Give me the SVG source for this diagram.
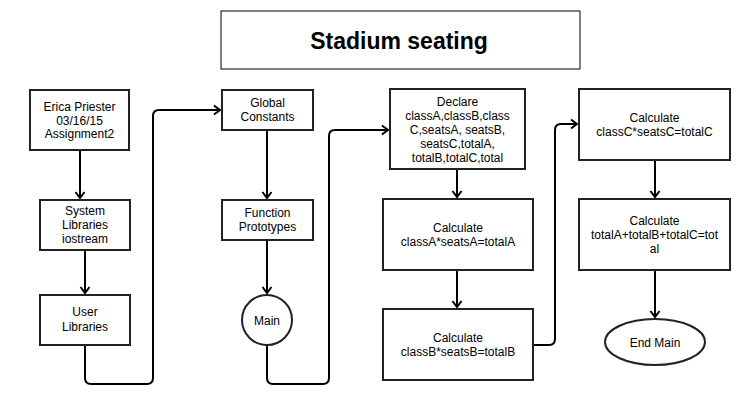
<svg xmlns="http://www.w3.org/2000/svg" width="755" height="409" viewBox="0 0 755 409">
<defs>
<marker id="arr" markerUnits="userSpaceOnUse" markerWidth="12" markerHeight="12" viewBox="-8 -6 10 12" refX="0" refY="0" orient="auto">
<path d="M-6,-4.5 L0,0 L-6,4.5" fill="none" stroke="#000" stroke-width="2"/>
</marker>
</defs>
<style>
.box{fill:#fff;stroke:#222;stroke-width:2}
.t{font-family:"Liberation Sans",Arial,sans-serif;font-size:12px;fill:#000;text-anchor:middle}
.c{fill:none;stroke:#000;stroke-width:2;marker-end:url(#arr)}
.title{font-family:"Liberation Sans",Arial,sans-serif;font-size:23px;font-weight:bold;fill:#000;text-anchor:middle}
</style>
<rect width="755" height="409" fill="#fff"/>
<g id="title">
<rect x="221" y="11" width="359" height="58" fill="#fff" stroke="#000" stroke-width="1"/>
<text class="title" x="399" y="49">Stadium seating</text>
</g>
<g id="connectors">
<path class="c" d="M80,150 V198"/>
<path class="c" d="M85,250 V293"/>
<path class="c" d="M85,345 V378 Q85,384 91,384 H147 Q153,384 153,378 V116 Q153,110 159,110 H220"/>
<path class="c" d="M267,130 V198"/>
<path class="c" d="M267,240 V293"/>
<path class="c" d="M267,345 V378 Q267,384 273,384 H323 Q329,384 329,378 V136 Q329,130 335,130 H388"/>
<path class="c" d="M457,169 V197"/>
<path class="c" d="M457,270 V307"/>
<path class="c" d="M533,345 H549 Q555,345 555,339 V130 Q555,124 561,124 H577"/>
<path class="c" d="M655,160 V197"/>
<path class="c" d="M655,270 V317"/>
</g>
<g id="erica">
<rect class="box" x="30" y="90" width="99" height="60"/>
<text class="t" x="79.5" y="111">Erica Priester</text>
<text class="t" x="79.5" y="124.5">03/16/15</text>
<text class="t" x="79.5" y="138">Assignment2</text>
</g>
<g id="syslib">
<rect class="box" x="40" y="200" width="90" height="50"/>
<text class="t" x="85" y="215">System</text>
<text class="t" x="85" y="229">Libraries</text>
<text class="t" x="85" y="242.5">iostream</text>
</g>
<g id="userlib">
<rect class="box" x="40" y="295" width="90" height="50"/>
<text class="t" x="85" y="316">User</text>
<text class="t" x="85" y="331">Libraries</text>
</g>
<g id="global">
<rect class="box" x="222" y="90" width="91" height="40"/>
<text class="t" x="267.5" y="107">Global</text>
<text class="t" x="267.5" y="120.5">Constants</text>
</g>
<g id="proto">
<rect class="box" x="222" y="200" width="91" height="40"/>
<text class="t" x="267.5" y="217">Function</text>
<text class="t" x="267.5" y="231">Prototypes</text>
</g>
<g id="main">
<circle class="box" cx="267" cy="320" r="25"/>
<text class="t" x="267" y="324.5">Main</text>
</g>
<g id="declare">
<rect class="box" x="390" y="89" width="135" height="80"/>
<text class="t" x="457.5" y="106">Declare</text>
<text class="t" x="457.5" y="120">classA,classB,class</text>
<text class="t" x="457.5" y="134">C,seatsA, seatsB,</text>
<text class="t" x="457.5" y="148">seatsC,totalA,</text>
<text class="t" x="457.5" y="162">totalB,totalC,total</text>
</g>
<g id="calcA">
<rect class="box" x="383" y="199" width="150" height="71"/>
<text class="t" x="458" y="231.5">Calculate</text>
<text class="t" x="458" y="246">classA*seatsA=totalA</text>
</g>
<g id="calcB">
<rect class="box" x="383" y="309" width="150" height="71"/>
<text class="t" x="458" y="342">Calculate</text>
<text class="t" x="458" y="356">classB*seatsB=totalB</text>
</g>
<g id="calcC">
<rect class="box" x="579" y="89" width="151" height="71"/>
<text class="t" x="654.5" y="122">Calculate</text>
<text class="t" x="654.5" y="136">classC*seatsC=totalC</text>
</g>
<g id="calcTotal">
<rect class="box" x="579" y="199" width="151" height="71"/>
<text class="t" x="654.5" y="225">Calculate</text>
<text class="t" x="654.5" y="239">totalA+totalB+totalC=tot</text>
<text class="t" x="654.5" y="253">al</text>
</g>
<g id="endmain">
<ellipse class="box" cx="655" cy="342" rx="50" ry="23"/>
<text class="t" x="655" y="346.5">End Main</text>
</g>
</svg>
